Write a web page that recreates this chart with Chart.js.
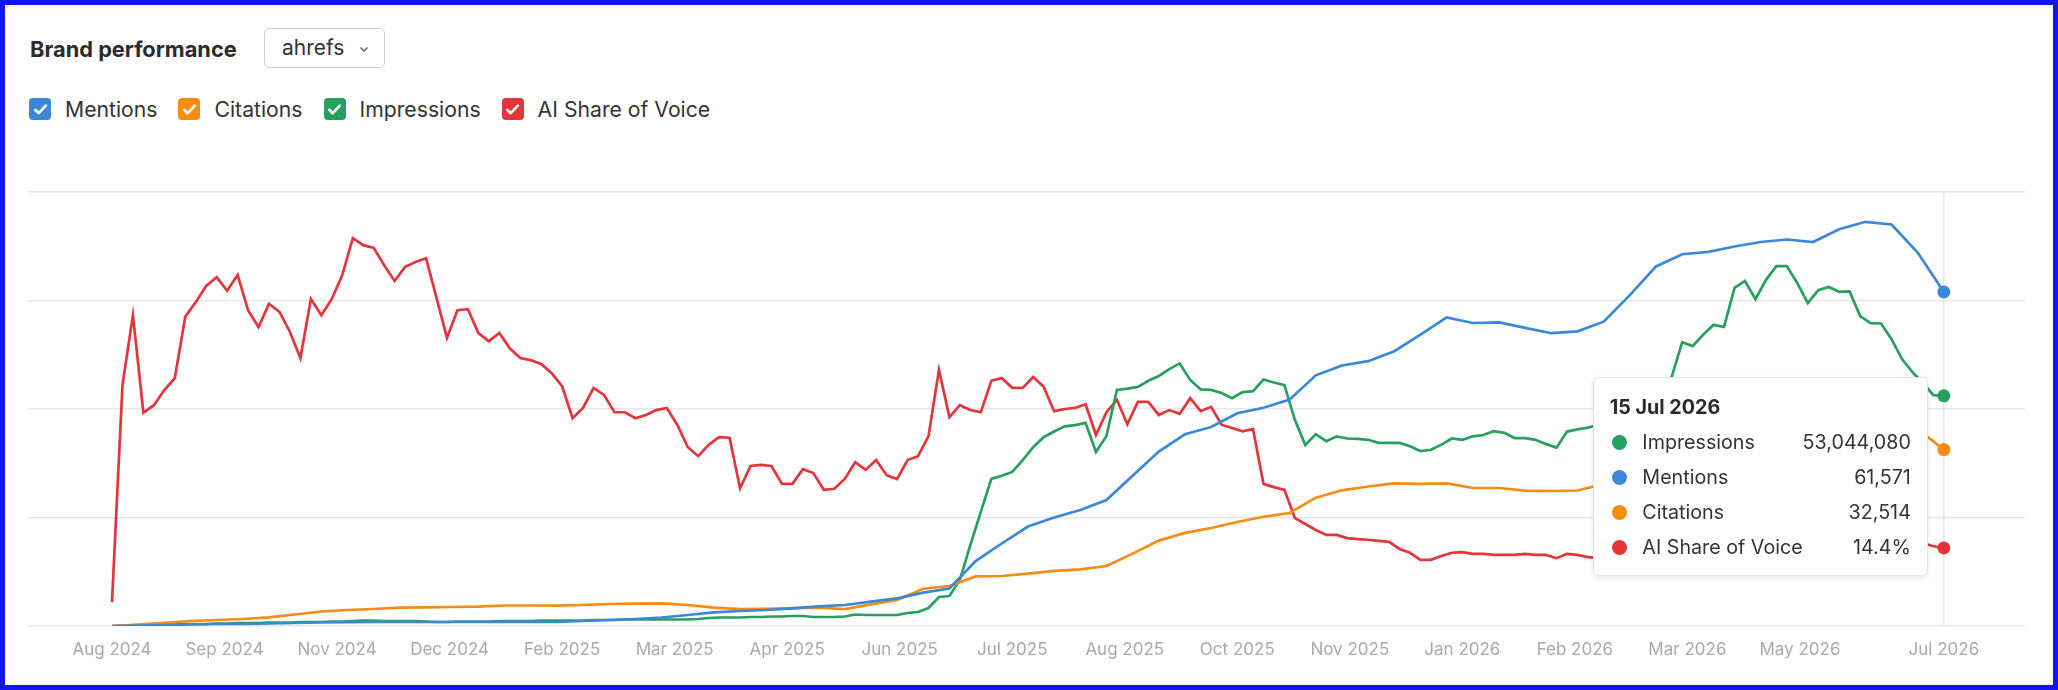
<!DOCTYPE html>
<html>
<head>
<meta charset="utf-8">
<script src="https://cdn.jsdelivr.net/npm/chart.js@4.4.1/dist/chart.umd.min.js"></script>
<style>
  html, body { margin: 0; padding: 0; background: #fff; }
  body { width: 2058px; height: 690px; position: relative; overflow: hidden; font-family: Inter, "Noto Sans", sans-serif; color: #333; }
  .frame { position: absolute; inset: 0; border: 5px solid #1414ee; box-sizing: border-box; pointer-events: none; z-index: 5; }
  .title { position: absolute; left: 30px; top: 36px; font-size: 21.8px; font-weight: 700; line-height: 26px; color: #2b2b2b; }
  .select { position: absolute; left: 264px; top: 28px; width: 121px; height: 40px; box-sizing: border-box; border: 1.3px solid #cfcfcf; border-radius: 5px; font-size: 21px; line-height: 37px; padding-left: 17px; color: #333; }
  .select svg { position: absolute; left: 94px; top: 17px; }
  .legend { position: absolute; left: 29px; top: 98px; display: flex; align-items: center; gap: 21px; }
  .legend .item { display: flex; align-items: center; gap: 14px; font-size: 21.2px; line-height: 22px; color: #333; }
  .legend .box { width: 22px; height: 22px; border-radius: 4px; display: flex; align-items: center; justify-content: center; }
  canvas { position: absolute; left: 0; top: 0; }
  #tip { position: absolute; display: none; width: 335px; height: 199px; box-sizing: border-box; background: #fff; border: 1px solid #e3e3e3; border-radius: 6px; box-shadow: 0 2px 6px rgba(0,0,0,0.10); padding: 16px 16px 0 16px; z-index: 3; }
  #tip .tip-title { font-size: 19.7px; font-weight: 700; line-height: 26px; color: #2b2b2b; }
  #tip .rows { margin-top: 4.5px; }
  #tip .row { display: flex; align-items: center; height: 35px; font-size: 19.7px; color: #333; }
  #tip .dot { width: 15px; height: 15px; border-radius: 50%; margin-left: 2.5px; margin-right: 15px; flex: none; }
  #tip .name { flex: 1; }
  #tip .val { text-align: right; }
</style>
</head>
<body>
<div class="title">Brand performance</div>
<div class="select">ahrefs
  <svg width="10" height="7" viewBox="0 0 10 7"><polyline points="1.5,1.5 5,5 8.5,1.5" fill="none" stroke="#555" stroke-width="1.4"/></svg>
</div>
<div class="legend" id="legend"></div>
<canvas id="brandChart" width="2058" height="690"></canvas>
<div id="tip"><div class="tip-title"></div><div class="rows"></div></div>
<div class="frame"></div>

<script>
// x positions are day indexes (0 = first day, 700 = 15 Jul 2026)
const tickIndex = [0, 43, 86, 129, 172, 215, 258, 301, 344, 387, 430, 473, 516, 559, 602, 645, 700];
const tickLabels = ['Aug 2024', 'Sep 2024', 'Nov 2024', 'Dec 2024', 'Feb 2025', 'Mar 2025', 'Apr 2025',
    'Jun 2025', 'Jul 2025', 'Aug 2025', 'Oct 2025', 'Nov 2025', 'Jan 2026', 'Feb 2026', 'Mar 2026',
    'May 2026', 'Jul 2026'];
const hoverDate = '15 Jul 2026';

// impressions and share of voice sampled every 4 days, mentions and citations every 10 days
const fineStep = 4;
const coarseStep = 10;

const shareOfVoice = [
    4.4, 44.4, 57.3, 39.3, 40.7, 43.5, 45.7, 57.0, 59.7, 62.7,
    64.3, 61.8, 64.7, 58.2, 55.1, 59.4, 57.9, 54.2, 49.4, 60.3,
    57.3, 60.3, 64.7, 71.5, 70.2, 69.7, 66.5, 63.6, 66.2, 67.1,
    67.8, 60.5, 53.1, 58.2, 58.4, 54.0, 52.5, 54.0, 51.2, 49.4,
    49.0, 48.3, 46.6, 44.2, 38.3, 40.2, 43.9, 42.6, 39.4, 39.4,
    38.3, 38.9, 39.8, 40.2, 37.1, 33.0, 31.3, 33.4, 34.8, 34.7,
    25.4, 29.5, 29.7, 29.5, 26.2, 26.2, 28.9, 28.2, 25.1, 25.3,
    27.1, 30.2, 28.8, 30.6, 27.8, 27.1, 30.6, 31.3, 35.0, 47.2,
    38.5, 40.7, 39.8, 39.4, 45.2, 45.7, 43.9, 43.9, 45.9, 44.1,
    39.6, 40.0, 40.2, 40.9, 35.2, 39.4, 41.7, 37.2, 41.3, 41.3,
    38.9, 39.8, 39.1, 42.0, 39.6, 40.4, 37.1, 36.5, 35.9, 36.3,
    26.2, 25.6, 25.1, 19.9, 18.8, 17.7, 16.8, 16.8, 16.2, 16.0,
    15.9, 15.7, 15.5, 14.2, 13.5, 12.2, 12.2, 12.9, 13.5, 13.6,
    13.3, 13.3, 13.1, 13.1, 13.1, 13.3, 13.1, 13.1, 12.5, 13.3,
    13.1, 12.7, 12.5, 12.7, 12.9, 12.9, 13.1, 13.1, 13.3, 13.1,
    12.9, 13.1, 13.3, 13.5, 13.5, 13.6, 13.5, 13.6, 13.8, 13.8,
    14.0, 14.0, 14.2, 14.4, 14.4, 14.6, 14.6, 14.7, 14.7, 14.9,
    14.9, 15.1, 15.1, 15.3, 14.7, 14.4
];

// millions
const impressionsM = [
    0, 0, 0.12, 0.23, 0.23, 0.35, 0.35, 0.46, 0.46, 0.46,
    0.58, 0.58, 0.69, 0.69, 0.69, 0.81, 0.81, 0.81, 0.92, 0.92,
    0.92, 1.04, 1.04, 1.15, 1.27, 1.27, 1.15, 1.15, 1.15, 1.15,
    1.04, 0.92, 0.92, 1.04, 1.04, 1.04, 1.04, 1.15, 1.15, 1.15,
    1.15, 1.27, 1.27, 1.27, 1.27, 1.27, 1.38, 1.38, 1.38, 1.50,
    1.50, 1.50, 1.50, 1.50, 1.50, 1.50, 1.61, 1.84, 1.96, 1.96,
    1.96, 2.07, 2.07, 2.19, 2.19, 2.30, 2.30, 2.07, 2.07, 2.07,
    2.19, 2.65, 2.53, 2.53, 2.53, 2.53, 3.00, 3.23, 4.15, 6.68,
    6.91, 10.6, 18.7, 26.3, 33.9, 34.6, 35.5, 38.2, 41.2, 43.5,
    44.8, 46.0, 46.3, 46.8, 40.1, 43.8, 54.4, 54.7, 55.1, 56.5,
    57.6, 59.2, 60.5, 56.7, 54.5, 54.4, 53.7, 52.5, 53.9, 54.1,
    56.8, 56.1, 55.5, 47.5, 41.7, 44.2, 42.6, 43.7, 43.2, 43.1,
    42.9, 42.2, 42.2, 42.2, 41.4, 40.3, 40.6, 41.8, 43.2, 42.9,
    43.7, 44.0, 44.9, 44.5, 43.3, 43.3, 42.9, 41.9, 41.1, 44.8,
    45.3, 45.7, 46.3, 47.0, 47.5, 48.4, 49.8, 51.6, 53.9, 57.4,
    65.4, 64.5, 67.1, 69.4, 68.9, 77.9, 79.5, 75.3, 79.7, 82.9,
    82.9, 79.0, 74.4, 77.4, 78.1, 77.0, 77.1, 71.4, 69.8, 69.7,
    66.1, 61.5, 58.5, 56.0, 53.2, 53.04408
];

const mentions = [
    0, 92, 184, 276, 369, 369, 461, 553, 645, 700,
    737, 737, 737, 737, 737, 737, 737, 737, 922, 1106,
    1290, 1567, 2028, 2525, 2765, 2949, 3263, 3631, 3871, 4479,
    5106, 6157, 6912, 11981, 15207, 18341, 20000, 21382, 23226, 27705,
    32147, 35336, 36682, 39207, 40221, 41751, 46211, 48018, 48811, 50654,
    53714, 56884, 55852, 55963, 54967, 53972, 54322, 56092, 60995, 66285,
    68534, 68976, 69953, 70783, 71243, 70783, 73142, 74506, 74008, 68847,
    61571
];

const citations = [
    0, 276, 590, 922, 1106, 1290, 1604, 2120, 2673, 2949,
    3134, 3373, 3429, 3502, 3576, 3779, 3779, 3760, 3871, 4055,
    4111, 4184, 3871, 3373, 3097, 3170, 3281, 3373, 3097, 4000,
    4793, 6876, 7373, 9143, 9217, 9640, 10175, 10433, 11060, 13345,
    15742, 17161, 18064, 19170, 20129, 20829, 23650, 25014, 25714, 26304,
    26212, 26304, 25438, 25438, 24940, 24885, 24977, 26175, 27281, 28571,
    29861, 30967, 32073, 33179, 34101, 34838, 35391, 35944, 36313, 36313,
    32514
];

const colors = {
    mentions: '#3b87d8',
    citations: '#f78c12',
    impressions: '#27a05d',
    share: '#e3353b'
};

const legendItems = [
    ['Mentions', colors.mentions],
    ['Citations', colors.citations],
    ['Impressions', colors.impressions],
    ['AI Share of Voice', colors.share]
];
const tipOrder = ['Impressions', 'Mentions', 'Citations', 'AI Share of Voice'];

const formatters = {
    'Impressions': (v) => Math.round(v * 1e6).toLocaleString('en-US'),
    'Mentions': (v) => Math.round(v).toLocaleString('en-US'),
    'Citations': (v) => Math.round(v).toLocaleString('en-US'),
    'AI Share of Voice': (v) => v.toFixed(1) + '%'
};

const check = '<svg width="15" height="13" viewBox="0 0 15 13"><polyline points="2.2,6.8 5.8,10.2 12.8,2.6" fill="none" stroke="#fff" stroke-width="2.6" stroke-linecap="round" stroke-linejoin="round"/></svg>';
document.getElementById('legend').innerHTML = legendItems.map(([name, c]) =>
    `<div class="item"><span class="box" style="background:${c}">${check}</span><span>${name}</span></div>`
).join('');

const toPoints = (values, step) => values.map((v, i) => ({ x: i * step, y: v }));

const lineStyle = (color) => ({
    borderColor: color,
    backgroundColor: color,
    borderWidth: 2.7,
    pointRadius: 0,
    pointHoverRadius: 6.5,
    pointHoverBorderWidth: 0,
    pointHoverBackgroundColor: color,
    tension: 0,
    fill: false
});

const tipTop = 377;

function renderTip({ chart, tooltip }) {
    const el = document.getElementById('tip');
    if (tooltip.opacity === 0 || !tooltip.dataPoints || !tooltip.dataPoints.length) {
        el.style.display = 'none';
        return;
    }
    el.querySelector('.tip-title').textContent = hoverDate;
    el.querySelector('.rows').innerHTML = tooltip.dataPoints.map(item => {
        const name = item.dataset.label;
        return `<div class="row"><span class="dot" style="background:${item.dataset.borderColor}"></span>` +
            `<span class="name">${name}</span><span class="val">${formatters[name](item.parsed.y)}</span></div>`;
    }).join('');
    el.style.display = 'block';
    el.style.left = (chart.canvas.offsetLeft + tooltip.caretX - 16 - el.offsetWidth) + 'px';
    el.style.top = tipTop + 'px';
}

// thin vertical line at the hovered day
const hoverLine = {
    id: 'hoverLine',
    beforeDatasetsDraw(chart) {
        const act = chart.tooltip.getActiveElements();
        if (!act.length) return;
        const x = act[0].element.x;
        const { top, bottom } = chart.chartArea;
        const ctx = chart.ctx;
        ctx.save();
        ctx.strokeStyle = '#e2e2e2';
        ctx.lineWidth = 1.3;
        ctx.beginPath();
        ctx.moveTo(x, top);
        ctx.lineTo(x, bottom);
        ctx.stroke();
        ctx.restore();
    }
};

const ctx = document.getElementById('brandChart').getContext('2d');
const chart = new Chart(ctx, {
    type: 'line',
    data: {
        datasets: [
            { label: 'Mentions', data: toPoints(mentions, coarseStep), yAxisID: 'yCount', ...lineStyle(colors.mentions) },
            { label: 'Citations', data: toPoints(citations, coarseStep), yAxisID: 'yCount', ...lineStyle(colors.citations) },
            { label: 'Impressions', data: toPoints(impressionsM, fineStep), yAxisID: 'yImp', ...lineStyle(colors.impressions) },
            { label: 'AI Share of Voice', data: toPoints(shareOfVoice, fineStep), yAxisID: 'yShare', ...lineStyle(colors.share) }
        ]
    },
    options: {
        responsive: false,
        animation: false,
        devicePixelRatio: 1,
        events: [],
        layout: { padding: { left: 28, right: 33, top: 192, bottom: 0 } },
        plugins: {
            legend: { display: false },
            tooltip: {
                enabled: false,
                external: renderTip,
                itemSort: (a, b) => tipOrder.indexOf(a.dataset.label) - tipOrder.indexOf(b.dataset.label)
            }
        },
        scales: {
            x: {
                type: 'linear',
                min: -32.1,
                max: 731,
                grid: { display: false, drawTicks: false },
                border: { display: false },
                afterBuildTicks: (scale) => { scale.ticks = tickIndex.map(v => ({ value: v })); },
                afterFit: (scale) => { scale.height = 64; },
                ticks: {
                    autoSkip: false,
                    maxRotation: 0,
                    padding: 14,
                    color: '#a9a9a9',
                    font: { family: 'Inter', size: 17 },
                    callback: (v) => {
                        const i = tickIndex.indexOf(v);
                        return i >= 0 ? tickLabels[i] : '';
                    }
                }
            },
            yCount: {
                position: 'left',
                min: 0,
                max: 80000,
                ticks: { display: false, stepSize: 20000 },
                grid: { color: '#e8e8e8', lineWidth: 1.5, drawTicks: false },
                border: { display: false },
                afterFit: (scale) => { scale.width = 0; }
            },
            yImp: { display: false, min: 0, max: 100 },
            yShare: { display: false, min: 0, max: 80 }
        }
    },
    plugins: [hoverLine]
});

const active = chart.data.datasets.map((ds, i) => ({ datasetIndex: i, index: ds.data.length - 1 }));
const last = chart.getDatasetMeta(0).data[mentions.length - 1];
chart.setActiveElements(active);
chart.tooltip.setActiveElements(active, { x: last.x, y: last.y });
chart.update();
</script>
</body>
</html>
